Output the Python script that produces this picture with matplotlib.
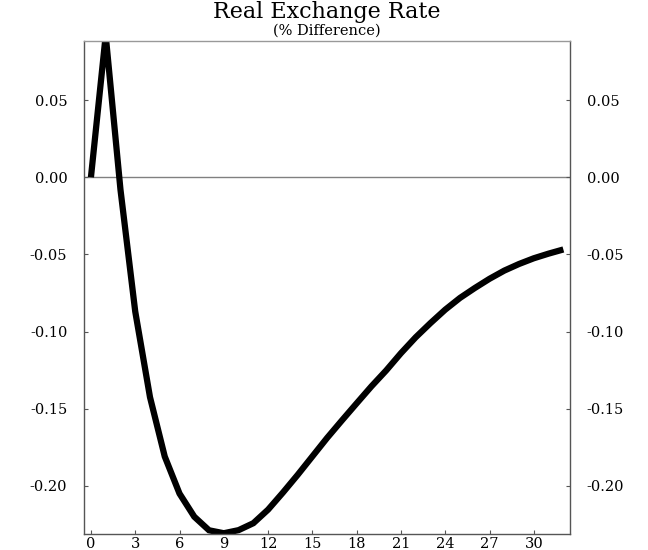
import matplotlib.pyplot as plt

# quarters after the shock
quarters = list(range(33))

# real exchange rate, % difference from baseline
rer = [0.000, 0.092, -0.008, -0.087, -0.1425, -0.181, -0.205, -0.220, -0.2288,
       -0.2307, -0.2287, -0.2242, -0.2154, -0.2044, -0.1929, -0.1809, -0.1689,
       -0.1576, -0.1465, -0.1355, -0.1252, -0.1140, -0.1037, -0.0945, -0.0858,
       -0.0782, -0.0718, -0.0658, -0.0605, -0.0562, -0.0525, -0.0495, -0.0468]

xticks = list(range(0, 31, 3))
yticks = [-0.20, -0.15, -0.10, -0.05, 0.00, 0.05]

plt.rcParams['font.family'] = ['DejaVu Serif']

fig = plt.figure(figsize=(6.48, 5.5), dpi=100)
ax = fig.add_axes([84 / 648, 16 / 550, 486 / 648, 493 / 550])

ax.axhline(0, color='#808080', lw=1.0, zorder=1)
ax.plot(quarters, rer, color='black', lw=4.5, solid_joinstyle='miter',
        solid_capstyle='butt', zorder=2)

ax.set_xlim(-0.47, 32.45)
ax.set_ylim(-0.2312, 0.0883)
ax.set_xticks(xticks)
ax.set_yticks(yticks)
ax.set_yticklabels([f'{v:.2f}' for v in yticks])

ax.tick_params(axis='both', direction='in', length=3, width=0.8,
               color='#555555', labelsize=10.5)
ax.tick_params(axis='y', right=True, labelright=True, pad=12)
ax.tick_params(axis='x', pad=2)

for s in ax.spines.values():
    s.set_color('#555555')
    s.set_linewidth(1.0)
ax.spines['top'].set_color('#999999')

# title block above the frame
fig.text(0.5045, 0.9785, 'Real Exchange Rate', ha='center', va='center', fontsize=16)
fig.text(0.5045, 0.9435, '(% Difference)', ha='center', va='center', fontsize=10.5)

fig.savefig('out.png', dpi=100)
